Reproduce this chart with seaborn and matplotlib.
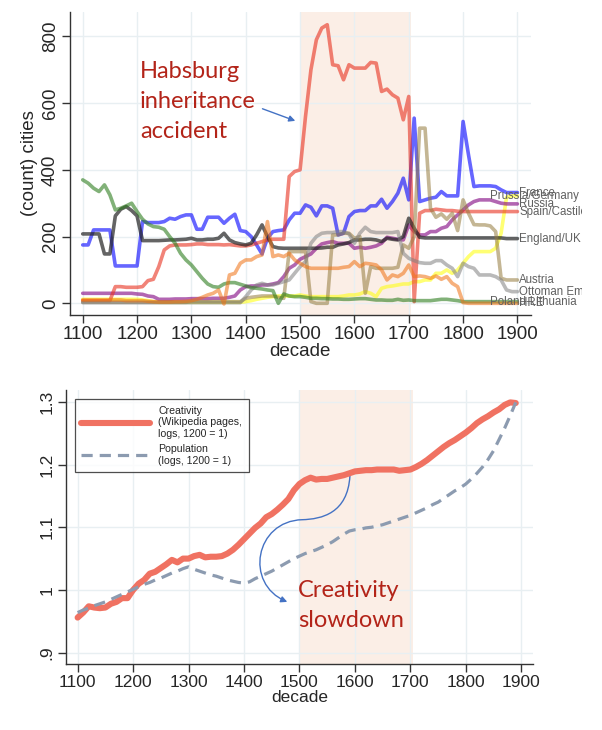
# Cities per state (top) and creativity vs population (bottom), decade data
import numpy as np
import pandas as pd
import matplotlib
matplotlib.use('Agg')
import matplotlib.pyplot as plt
import seaborn as sns
from matplotlib.path import Path
from matplotlib.patches import FancyArrowPatch
from matplotlib.transforms import Bbox

# ---------------- data: top panel, one value per decade 1100..1900 ----------------
decades = list(range(1100, 1901, 10))

france = [175, 175, 220, 220, 220, 220, 112, 112, 112, 112,
          112, 245, 242, 242, 242, 245, 255, 252, 260, 265,
          265, 222, 222, 258, 258, 258, 240, 255, 267, 218,
          215, 200, 175, 148, 195, 215, 218, 220, 250, 270,
          270, 295, 288, 262, 292, 292, 285, 205, 210, 260,
          275, 278, 278, 292, 292, 312, 285, 305, 330, 375,
          310, 555, 305, 310, 315, 318, 335, 322, 322, 322,
          545, 445, 350, 352, 352, 352, 350, 340, 332, 332,
          332]
prussia = [12, 12, 12, 12, 12, 12, 12, 12, 12, 12,
           12, 10, 8, 5, 3, 3, 3, 3, 3, 3,
           3, 3, 3, 3, 3, 3, 3, 3, 3, 3,
           5, 8, 12, 15, 18, 20, 22, 22, 22, 22,
           25, 22, 20, 20, 20, 20, 20, 20, 22, 25,
           25, 28, 35, 30, 20, 45, 50, 52, 55, 58,
           58, 65, 65, 70, 70, 90, 90, 100, 90, 100,
           120, 140, 155, 155, 155, 155, 165, 210, 318, 322,
           322]
russia = [30, 30, 30, 30, 30, 30, 30, 30, 30, 30,
          28, 27, 22, 20, 12, 12, 12, 13, 13, 13,
          14, 14, 14, 14, 15, 15, 15, 18, 22, 40,
          50, 52, 52, 55, 55, 58, 62, 80, 105, 115,
          132, 140, 148, 165, 178, 182, 185, 180, 180, 180,
          165, 168, 165, 168, 172, 180, 198, 195, 192, 190,
          235, 215, 205, 205, 215, 215, 225, 230, 250, 265,
          280, 295, 305, 310, 310, 310, 305, 300, 298, 298,
          298]
spain = [8, 8, 8, 8, 8, 8, 50, 50, 48, 48,
         48, 50, 68, 72, 110, 160, 172, 175, 175, 175,
         176, 178, 178, 176, 176, 176, 175, 176, 174, 172,
         172, 175, 180, 185, 190, 192, 192, 192, 380, 395,
         400, 560, 700, 790, 825, 835, 715, 712, 670, 715,
         705, 705, 705, 722, 720, 635, 642, 625, 615, 550,
         620, 5, 270, 278, 278, 282, 280, 278, 278, 276,
         275, 275, 275, 275, 275, 275, 275, 275, 275, 275,
         275]
england = [208, 208, 208, 208, 148, 148, 262, 282, 290, 278,
           262, 188, 188, 188, 188, 189, 190, 190, 191, 192,
           195, 190, 190, 192, 192, 195, 210, 190, 182, 178,
           175, 180, 205, 235, 200, 170, 166, 165, 165, 165,
           165, 165, 165, 165, 166, 168, 168, 175, 178, 182,
           190, 190, 192, 192, 190, 185, 195, 192, 190, 200,
           255, 225, 198, 196, 196, 196, 196, 196, 196, 196,
           196, 196, 196, 196, 196, 196, 196, 196, 194, 194,
           194]
austria = [3, 3, 3, 3, 3, 3, 3, 3, 3, 3,
           3, 3, 3, 3, 3, 3, 3, 3, 3, 3,
           5, 5, 5, 5, 5, 5, 5, 5, 5, 5,
           15, 18, 20, 22, 22, 22, 18, 15, 155, 155,
           155, 155, 5, 0, 0, 0, 205, 205, 210, 210,
           195, 200, 30, 110, 105, 105, 105, 105, 108, 175,
           165, 200, 525, 525, 285, 258, 268, 252, 270, 218,
           310, 270, 236, 235, 235, 232, 215, 75, 70, 70,
           70]
ottoman = [2, 2, 2, 2, 2, 2, 2, 2, 2, 2,
           2, 2, 2, 2, 2, 2, 2, 2, 2, 2,
           2, 2, 2, 2, 2, 2, 2, 2, 2, 2,
           20, 40, 55, 60, 55, 55, 60, 65, 70, 90,
           110, 125, 180, 200, 210, 212, 212, 215, 215, 208,
           180, 210, 228, 215, 212, 212, 212, 212, 215, 150,
           135, 128, 122, 120, 120, 128, 128, 115, 105, 80,
           120, 110, 105, 85, 85, 85, 80, 70, 40, 35,
           35]
poland = [370, 360, 345, 335, 355, 325, 280, 285, 292, 300,
          275, 252, 238, 230, 228, 222, 200, 180, 150, 130,
          115, 95, 75, 58, 50, 48, 58, 62, 62, 57,
          52, 47, 45, 43, 40, 38, 0, 28, 22, 20,
          20, 18, 15, 15, 14, 14, 13, 13, 12, 12,
          13, 14, 14, 12, 10, 10, 9, 9, 12, 9,
          10, 8, 8, 8, 8, 10, 12, 12, 10, 8,
          5, 5, 5, 5, 5, 5, 5, 5, 5, 5,
          5]
hre = [10, 10, 10, 10, 10, 10, 10, 10, 8, 8,
       8, 8, 6, 5, 4, 4, 4, 5, 5, 6,
       8, 12, 18, 25, 30, 40, -2, 85, 90, 120,
       130, 130, 140, 145, 245, 140, 145, 140, 150, 130,
       120, 110, 105, 105, 105, 105, 105, 105, 108, 110,
       125, 110, 120, 118, 115, 100, 70, 85, 80, 90,
       115, 80, 82, 80, 75, 82, 72, 80, 60, 50,
       2, 0, 0, 0, 0, 0, 0, 0, 0, 0,
       0]

states = ['France', 'Prussia/Germany', 'Russia', 'Spain/Castile', 'England/UK',
          'Austria', 'Ottoman Empire', 'Poland-Lithuania', 'HRE']
cities = [france, prussia, russia, spain, england, austria, ottoman, poland, hre]

# ---------------- data: bottom panel, decades 1100..1890 ----------------
decades2 = list(range(1100, 1891, 10))
creativity = [0.956, 0.964, 0.974, 0.972, 0.971, 0.972, 0.978, 0.981, 0.987, 0.987,
              1.000, 1.010, 1.016, 1.026, 1.029, 1.035, 1.041, 1.048, 1.044, 1.050,
              1.050, 1.054, 1.056, 1.052, 1.053, 1.053, 1.054, 1.058, 1.064, 1.072,
              1.081, 1.090, 1.099, 1.106, 1.116, 1.121, 1.128, 1.136, 1.145, 1.159,
              1.169, 1.175, 1.179, 1.176, 1.177, 1.177, 1.179, 1.181, 1.183, 1.186,
              1.189, 1.190, 1.191, 1.191, 1.192, 1.192, 1.192, 1.192, 1.190, 1.191,
              1.192, 1.196, 1.201, 1.207, 1.214, 1.221, 1.228, 1.234, 1.239, 1.245,
              1.251, 1.258, 1.266, 1.272, 1.277, 1.283, 1.288, 1.295, 1.299, 1.298]
population = [0.964, 0.968, 0.971, 0.975, 0.978, 0.981, 0.985, 0.989, 0.993, 0.997,
              1.001, 1.005, 1.009, 1.012, 1.016, 1.019, 1.023, 1.027, 1.030, 1.034,
              1.037, 1.033, 1.030, 1.027, 1.024, 1.022, 1.019, 1.016, 1.014, 1.012,
              1.011, 1.013, 1.018, 1.022, 1.026, 1.030, 1.035, 1.040, 1.045, 1.050,
              1.054, 1.058, 1.061, 1.064, 1.068, 1.072, 1.077, 1.083, 1.089, 1.094,
              1.096, 1.097, 1.099, 1.100, 1.102, 1.104, 1.107, 1.110, 1.113, 1.116,
              1.119, 1.123, 1.127, 1.131, 1.136, 1.140, 1.146, 1.152, 1.158, 1.163,
              1.169, 1.177, 1.186, 1.196, 1.208, 1.222, 1.240, 1.258, 1.278, 1.299]

# ---------------- styles ----------------
line_colors = {'France': ('#0000ff', 0.6), 'Prussia/Germany': ('#ffff00', 0.55),
               'Russia': ('#800080', 0.6), 'Spain/Castile': ('#e8301e', 0.6),
               'England/UK': ('#222222', 0.7), 'Austria': ('#947a3c', 0.55),
               'Ottoman Empire': ('#808080', 0.55), 'Poland-Lithuania': ('#2e7d1e', 0.6),
               'HRE': ('#f07010', 0.55)}
label_xshift = {'Prussia/Germany': -53, 'Poland-Lithuania': -53}
shade = '#fbeee6'
grid_c = '#e8eff2'
red_txt = '#b32419'
arrow_c = '#4472c4'

sns.set_theme(style='white')
plt.rcParams['font.family'] = ['Liberation Sans', 'DejaVu Sans']

fig = plt.figure(figsize=(6.02, 7.30), dpi=100)
ax1 = fig.add_axes([0.1163, 0.5685, 0.7653, 0.415])
ax2 = fig.add_axes([0.1096, 0.0904, 0.7757, 0.3753])

long_df = pd.DataFrame({
    'decade': decades * len(states),
    'cities': [v for s in cities for v in s],
    'state': [st for st in states for _ in decades],
})

for ax in (ax1, ax2):
    ax.axvspan(1500, 1705, color=shade, lw=0, zorder=0)
    ax.set_axisbelow(True)
    ax.grid(True, color=grid_c, lw=1)
    for side in ('top', 'right'):
        ax.spines[side].set_visible(False)
    for side in ('left', 'bottom'):
        ax.spines[side].set_color('#333333')
        ax.spines[side].set_linewidth(1.0)
    ax.tick_params(direction='out', length=6, width=1, color='#333333', pad=2,
                   left=True, bottom=True)

# ---- top panel ----
for st in states:
    c, a = line_colors[st]
    sns.lineplot(data=long_df[long_df['state'] == st], x='decade', y='cities',
                 color=c, alpha=a, lw=2.6, ax=ax1, legend=False)

clip = Bbox.from_extents(0, 0, 582, 730)
for st, vals in zip(states, cities):
    t = ax1.text(decades[-1] + 3 + label_xshift.get(st, 0), vals[-1], st,
                 fontsize=8.3, color='#606060', va='center', ha='left')
    t.set_clip_box(clip)
    t.set_clip_on(True)

ax1.set_xlim(1076.6, 1924.5)
ax1.set_ylim(-35, 873)
ax1.set_xticks(range(1100, 1901, 100))
ax1.set_yticks([0, 200, 400, 600, 800])
ax1.set_yticklabels(['0', '200', '400', '600', '800'], rotation=90, va='center')
ax1.tick_params(labelsize=13.5)
ax1.set_xlabel('decade', fontsize=13.5, labelpad=0)
ax1.set_ylabel('(count) cities', fontsize=13.5, labelpad=3)

ax1.text(1205, 727, 'Habsburg\ninheritance\naccident', color=red_txt,
         fontsize=17, family=['Lato', 'DejaVu Sans'], va='top', ha='left', linespacing=1.55)
ax1.annotate('', xy=(1496, 544), xytext=(1426, 586),
             arrowprops=dict(arrowstyle='-|>', color=arrow_c, lw=1, mutation_scale=9))

# ---- bottom panel ----
sns.lineplot(x=decades2, y=creativity, color='#f07262', lw=4.4, ax=ax2,
             label='Creativity\n(Wikipedia pages,\nlogs, 1200 = 1)')
sns.lineplot(x=decades2, y=population, color='#8c9bb0', lw=2.3, ax=ax2,
             dashes=False, label='Population\n(logs, 1200 = 1)')
ax2.lines[1].set_dashes([3.5, 2.2])

ax2.set_xlim(1079, 1921)
ax2.set_ylim(0.882, 1.3187)
ax2.set_xticks(range(1100, 1901, 100))
ax2.set_yticks([0.9, 1.0, 1.1, 1.2, 1.3])
ax2.set_yticklabels(['.9', '1', '1.1', '1.2', '1.3'], rotation=90, va='center')
ax2.tick_params(labelsize=12.5)
ax2.set_xlabel('decade', fontsize=12.5, labelpad=0)

leg = ax2.legend(loc='upper left', bbox_to_anchor=(0.008, 0.985), fontsize=7.6,
                 frameon=True, fancybox=False, handlelength=6.5, handletextpad=0.8,
                 borderpad=0.6, labelspacing=0.5, edgecolor='#222222')
leg.get_frame().set_linewidth(0.9)
leg.get_frame().set_facecolor('white')

ax2.text(1497.5, 1.016, 'Creativity\nslowdown', color=red_txt, fontsize=17,
         family=['Lato', 'DejaVu Sans'], va='top', ha='left', linespacing=1.55)

verts = [(1591, 1.182), (1587, 1.122), (1540, 1.113), (1505, 1.112),
         (1420, 1.110), (1400, 1.010), (1478, 0.981)]
codes = [Path.MOVETO, Path.CURVE4, Path.CURVE4, Path.CURVE4,
         Path.CURVE4, Path.CURVE4, Path.CURVE4]
curve = FancyArrowPatch(path=Path(verts, codes), arrowstyle='-|>', color=arrow_c,
                        lw=1, mutation_scale=9)
ax2.add_patch(curve)

fig.savefig('out.png', dpi=100)
